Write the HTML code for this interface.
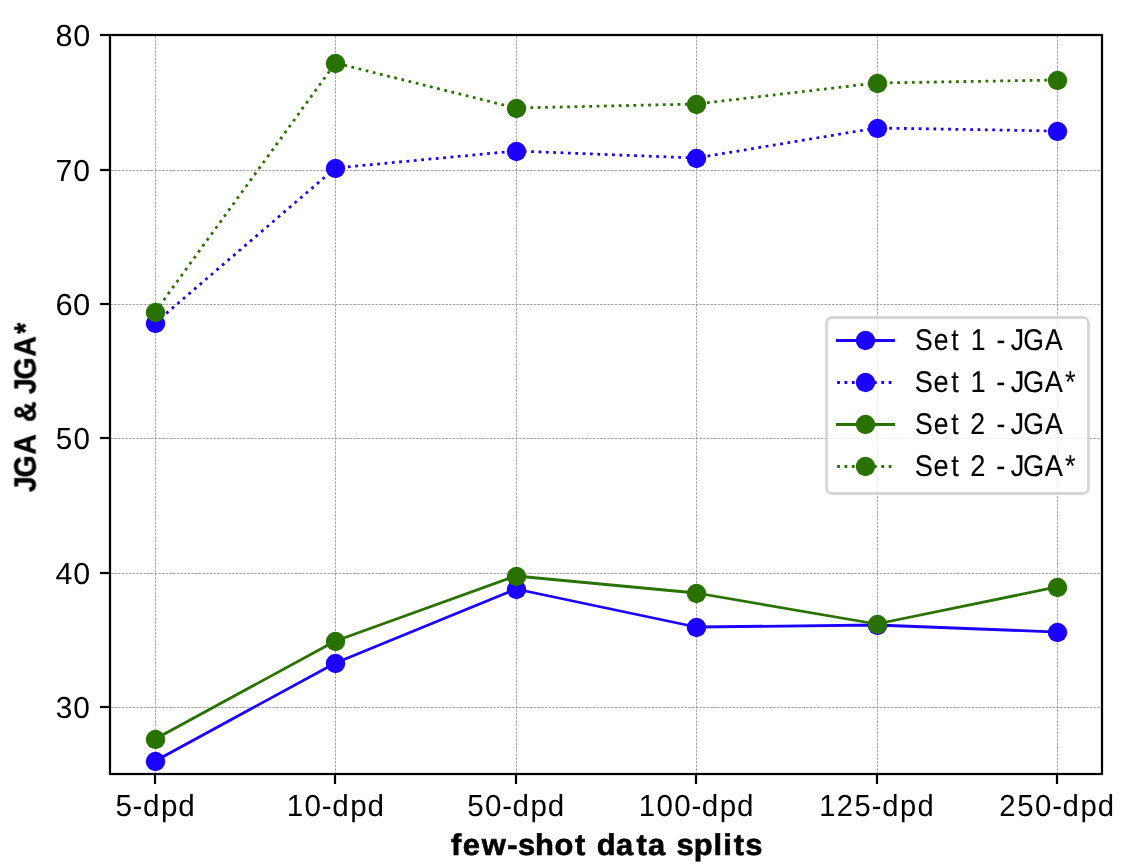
<!DOCTYPE html>
<html><head><meta charset="utf-8"><title>JGA &amp; JGA* vs few-shot data splits</title>
<style>html,body{margin:0;padding:0;background:#fff;}svg{display:block;}text{font-family:"Liberation Sans",sans-serif;text-rendering:geometricPrecision;}.tx{will-change:transform;}</style></head><body>
<svg width="1140" height="866" viewBox="0 0 1140 866">
<rect x="0" y="0" width="1140" height="866" fill="#fff"/>
<defs><clipPath id="ax"><rect x="110.056" y="35.244" width="992" height="739.2"/></clipPath></defs>
<g stroke="#808080" stroke-width="0.694" stroke-dasharray="2.56944 1.11111" fill="none"><line x1="155.5" y1="774.5" x2="155.5" y2="34.5"/><line x1="335.5" y1="774.5" x2="335.5" y2="34.5"/><line x1="516.5" y1="774.5" x2="516.5" y2="34.5"/><line x1="696.5" y1="774.5" x2="696.5" y2="34.5"/><line x1="877.5" y1="774.5" x2="877.5" y2="34.5"/><line x1="1057.5" y1="774.5" x2="1057.5" y2="34.5"/><line x1="110.5" y1="707.5" x2="1102.5" y2="707.5"/><line x1="110.5" y1="573.5" x2="1102.5" y2="573.5"/><line x1="110.5" y1="438.5" x2="1102.5" y2="438.5"/><line x1="110.5" y1="304.5" x2="1102.5" y2="304.5"/><line x1="110.5" y1="170.5" x2="1102.5" y2="170.5"/></g>
<g stroke="#000" stroke-width="2.222"><line x1="100" y1="35" x2="110" y2="35"/><line x1="100" y1="170" x2="110" y2="170"/><line x1="100" y1="304" x2="110" y2="304"/><line x1="100" y1="438" x2="110" y2="438"/><line x1="100" y1="573" x2="110" y2="573"/><line x1="100" y1="707" x2="110" y2="707"/><line x1="155" y1="774" x2="155" y2="784"/><line x1="335" y1="774" x2="335" y2="784"/><line x1="516" y1="774" x2="516" y2="784"/><line x1="696" y1="774" x2="696" y2="784"/><line x1="877" y1="774" x2="877" y2="784"/><line x1="1057" y1="774" x2="1057" y2="784"/></g>
<g clip-path="url(#ax)">
<polyline points="155.1,761 335.46,663 515.82,589 696.19,627 876.55,625 1056.92,632" fill="none" stroke="#1c00ff" stroke-width="2.778" stroke-linecap="square" stroke-linejoin="round"/>
<g fill="#1c00ff"><circle cx="155.5" cy="761.5" r="9.722"/><circle cx="335.5" cy="663.5" r="9.722"/><circle cx="516.5" cy="589.5" r="9.722"/><circle cx="696.5" cy="627.5" r="9.722"/><circle cx="877.5" cy="625.5" r="9.722"/><circle cx="1057.5" cy="632.5" r="9.722"/></g>
<polyline points="155.1,323 335.46,168 515.82,151 696.19,158 876.55,128 1056.92,131" fill="none" stroke="#1c00ff" stroke-width="2.778" stroke-dasharray="2.77778 4.58333" stroke-linecap="butt" stroke-linejoin="round"/>
<g fill="#1c00ff"><circle cx="155.5" cy="323.5" r="9.722"/><circle cx="335.5" cy="168.5" r="9.722"/><circle cx="516.5" cy="151.5" r="9.722"/><circle cx="696.5" cy="158.5" r="9.722"/><circle cx="877.5" cy="128.5" r="9.722"/><circle cx="1057.5" cy="131.5" r="9.722"/></g>
<polyline points="155.1,739 335.46,641 515.82,576 696.19,593 876.55,624 1056.92,587" fill="none" stroke="#297200" stroke-width="2.778" stroke-linecap="square" stroke-linejoin="round"/>
<g fill="#297200"><circle cx="155.5" cy="739.5" r="9.722"/><circle cx="335.5" cy="641.5" r="9.722"/><circle cx="516.5" cy="576.5" r="9.722"/><circle cx="696.5" cy="593.5" r="9.722"/><circle cx="877.5" cy="624.5" r="9.722"/><circle cx="1057.5" cy="587.5" r="9.722"/></g>
<polyline points="155.1,312 335.46,63 515.82,108 696.19,104 876.55,83 1056.92,80" fill="none" stroke="#297200" stroke-width="2.778" stroke-dasharray="2.77778 4.58333" stroke-linecap="butt" stroke-linejoin="round"/>
<g fill="#297200"><circle cx="155.5" cy="312.5" r="9.722"/><circle cx="335.5" cy="63.5" r="9.722"/><circle cx="516.5" cy="108.5" r="9.722"/><circle cx="696.5" cy="104.5" r="9.722"/><circle cx="877.5" cy="83.5" r="9.722"/><circle cx="1057.5" cy="80.5" r="9.722"/></g>
</g>
<rect x="110" y="35" width="992" height="739" fill="none" stroke="#000" stroke-width="2.222" stroke-linejoin="miter"/>
<rect x="826.5" y="317.5" width="262" height="176" rx="5.556" ry="5.556" fill="#fff" fill-opacity="0.8" stroke="#ccc" stroke-opacity="0.8" stroke-width="2.778"/>
<line x1="836" y1="340.5" x2="895" y2="340.5" stroke="#1c00ff" stroke-width="2.778"/>
<circle cx="865.5" cy="340.5" r="9.722" fill="#1c00ff"/>
<line x1="837.15" y1="382.5" x2="892.71" y2="382.5" stroke="#1c00ff" stroke-width="2.778" stroke-dasharray="2.77778 4.58333"/>
<circle cx="865.5" cy="382.5" r="9.722" fill="#1c00ff"/>
<line x1="836" y1="424.5" x2="895" y2="424.5" stroke="#297200" stroke-width="2.778"/>
<circle cx="865.5" cy="424.5" r="9.722" fill="#297200"/>
<line x1="837.15" y1="466.5" x2="892.71" y2="466.5" stroke="#297200" stroke-width="2.778" stroke-dasharray="2.77778 4.58333"/>
<circle cx="865.5" cy="466.5" r="9.722" fill="#297200"/>
<g class="tx" fill="#000"><text transform="translate(55.23,46.00) scale(1.0055,1)" x="0.31 17.84" y="0" font-size="30.45">80</text><text transform="translate(55.23,181.00) scale(0.9895,1)" x="0.40 18.27" y="0" font-size="30.45">70</text><text transform="translate(55.23,315.00) scale(1.0173,1)" x="0.21 17.54" y="0" font-size="30.45">60</text><text transform="translate(55.23,449.00) scale(0.9721,1)" x="0.51 18.75" y="0" font-size="30.45">50</text><text transform="translate(55.23,584.00) scale(1.0002,1)" x="0.36 17.98" y="0" font-size="30.45">40</text><text transform="translate(55.11,718.00) scale(0.9804,1)" x="0.58 18.64" y="0" font-size="30.45">30</text><text transform="translate(114.90,816.00) scale(0.9715,1)" x="0.51 18.23 28.88 47.36 65.16" y="0" font-size="30.45">5-dpd</text><text transform="translate(286.39,816.00) scale(0.9726,1)" x="0.45 18.73 36.46 47.08 65.55 83.33" y="0" font-size="30.45">10-dpd</text><text transform="translate(466.75,816.00) scale(0.9696,1)" x="0.53 18.82 36.58 47.25 65.77 83.61" y="0" font-size="30.45">50-dpd</text><text transform="translate(638.24,816.00) scale(0.9708,1)" x="0.47 18.78 37.07 54.81 65.47 83.97 101.78" y="0" font-size="30.45">100-dpd</text><text transform="translate(818.73,816.00) scale(0.9569,1)" x="0.61 18.80 37.49 55.43 66.28 85.06 103.12" y="0" font-size="30.45">125-dpd</text><text transform="translate(999.03,816.00) scale(0.9632,1)" x="0.32 18.89 37.30 55.16 65.92 84.57 102.52" y="0" font-size="30.45">250-dpd</text><text transform="translate(450.06,855.00) scale(1.0303,1)" x="0.96 12.42 30.89 55.57 65.95 82.53 101.40 121.18 131.17 142.40 161.09 180.87 192.15 208.84 219.78 236.60 255.72 265.06 275.26 286.63" y="0" font-size="30.00" font-weight="bold" stroke="#000" stroke-width="0.60">few-shot data splits</text><text transform="translate(35.50,488.16) rotate(-90) scale(0.9282,1)" x="-4.31 11.58 36.29 58.28 71.35 93.34 101.27 117.16 141.87 166.30" y="0" font-size="30.45" font-weight="bold" stroke="#000" stroke-width="0.50">JGA &amp; JGA*</text><text transform="translate(914.93,350.00) scale(0.8854,1)" x="0.12 21.28 41.02 49.35 62.92 79.60 92.01 102.00 108.32 122.43 146.84" y="0" font-size="30.00" stroke="#000" stroke-width="0.10">Set 1 - JGA</text><text transform="translate(914.93,392.00) scale(0.9059,1)" x="-0.11 20.61 39.99 48.33 61.30 77.98 89.82 99.81 105.72 119.40 143.29 165.61" y="0" font-size="30.00" stroke="#000" stroke-width="0.10">Set 1 - JGA*</text><text transform="translate(914.93,434.00) scale(0.8866,1)" x="0.11 21.23 40.96 49.29 62.53 79.22 91.88 101.87 108.16 122.25 146.63" y="0" font-size="30.00" stroke="#000" stroke-width="0.10">Set 2 - JGA</text><text transform="translate(914.93,476.00) scale(0.9069,1)" x="-0.12 20.57 39.95 48.28 60.95 77.63 89.71 99.70 105.59 119.26 143.13 165.43" y="0" font-size="30.00" stroke="#000" stroke-width="0.10">Set 2 - JGA*</text></g>
</svg>
</body></html>
